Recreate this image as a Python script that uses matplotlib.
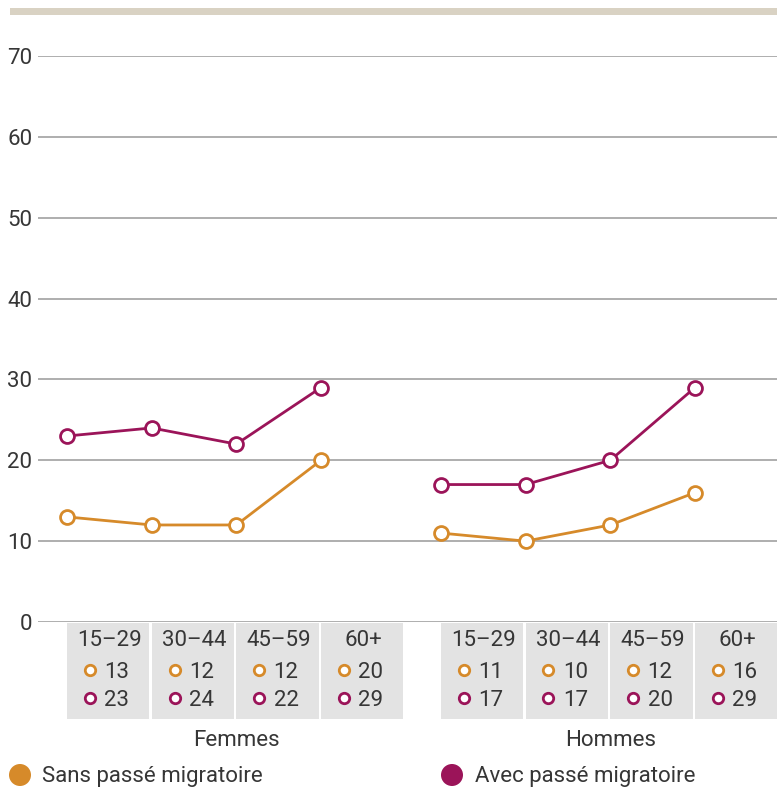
import matplotlib
matplotlib.use("Agg")
import matplotlib.pyplot as plt
from matplotlib.patches import Rectangle, Circle

# ---- data ----
groups = ["Femmes", "Hommes"]
age_labels = ["15–29", "30–44", "45–59", "60+"]
sans_femmes = [13, 12, 12, 20]
avec_femmes = [23, 24, 22, 29]
sans_hommes = [11, 10, 12, 16]
avec_hommes = [17, 17, 20, 29]
series_names = ["Sans passé migratoire", "Avec passé migratoire"]
y_ticks = [0, 10, 20, 30, 40, 50, 60, 70]

ORANGE = "#D68A2A"
PURPLE = "#9B1459"
TXT = "#363636"
CELL = "#E3E3E3"
FONT = "Roboto"
FS = 16
FW = "normal"
plt.rcParams["font.family"] = [FONT, "DejaVu Sans"]

W, H = 777, 789
fig = plt.figure(figsize=(W / 100, H / 100), dpi=100)

# x layout (one unit = one age step)
group_offsets = [0.0, 4.415]
x0, x1 = -0.342, 8.383

ax_left = 38 / W
ax_w = (777 - 38) / W
ax_bottom = (H - 622) / H
ax_h = (622 - 56) / H

ax = fig.add_axes([ax_left, ax_bottom, ax_w, ax_h])
ax.set_xlim(x0, x1)
ax.set_ylim(0, 70)
for s in ax.spines.values():
    s.set_visible(False)
ax.set_xticks([])
ax.set_yticks(y_ticks)
ax.set_yticklabels([str(t) for t in y_ticks])
ax.tick_params(axis="y", length=0, pad=4, labelsize=FS, labelcolor=TXT)
for lab in ax.get_yticklabels():
    lab.set_fontweight(FW)
ax.yaxis.grid(True, color="#999999", linewidth=1.1)
ax.set_axisbelow(True)
ax.patch.set_alpha(0)

data = [(sans_femmes, avec_femmes), (sans_hommes, avec_hommes)]
for off, (sans, avec) in zip(group_offsets, data):
    xs = [off + i for i in range(len(age_labels))]
    for vals, col in ((sans, ORANGE), (avec, PURPLE)):
        ax.plot(xs, vals, color=col, lw=2.0, marker="o", ms=10,
                mfc="white", mec=col, mew=2.0, zorder=3, clip_on=False)

# ---- table below ----
tax = fig.add_axes([ax_left, 0, ax_w, ax_bottom])
tax.set_xlim(x0, x1)
tax.set_ylim(789, 622)
tax.axis("off")

for off, (sans, avec), g in zip(group_offsets, data, groups):
    for i, lab in enumerate(age_labels):
        xi = off + i
        tax.add_patch(Rectangle((xi, 622.5), 0.972, 719 - 622.5,
                                facecolor=CELL, edgecolor="none", clip_on=False))
        tax.text(xi + 0.5, 640, lab, ha="center", va="center", fontsize=FS,
                 color=TXT, fontweight=FW)
        for row_y, v, col in ((670, sans[i], ORANGE), (698, avec[i], PURPLE)):
            tax.plot([xi + 0.27], [row_y], marker="o", ms=7.5, mfc="white",
                     mec=col, mew=2.0, clip_on=False)
            tax.text(xi + 0.44, row_y + 2, str(v), ha="left", va="center",
                     fontsize=FS, color=TXT, fontweight=FW)
    tax.text(off + 2.0, 741, g, ha="center", va="center", fontsize=FS,
             color=TXT, fontweight=FW)

# ---- overlay: top bar & legend ----
oax = fig.add_axes([0, 0, 1, 1])
oax.set_xlim(0, W)
oax.set_ylim(H, 0)
oax.axis("off")
oax.add_patch(Rectangle((10, 7.5), W - 10, 7, facecolor="#D9D2C3", edgecolor="none"))

for (cx, tx), name, col in zip(((20, 42), (452, 475)), series_names, (ORANGE, PURPLE)):
    oax.add_patch(Circle((cx, 775), 11, facecolor=col, edgecolor="none"))
    oax.text(tx, 776.5, name, ha="left", va="center", fontsize=FS, color=TXT,
             fontweight=FW)

fig.savefig("out.png", dpi=100)
